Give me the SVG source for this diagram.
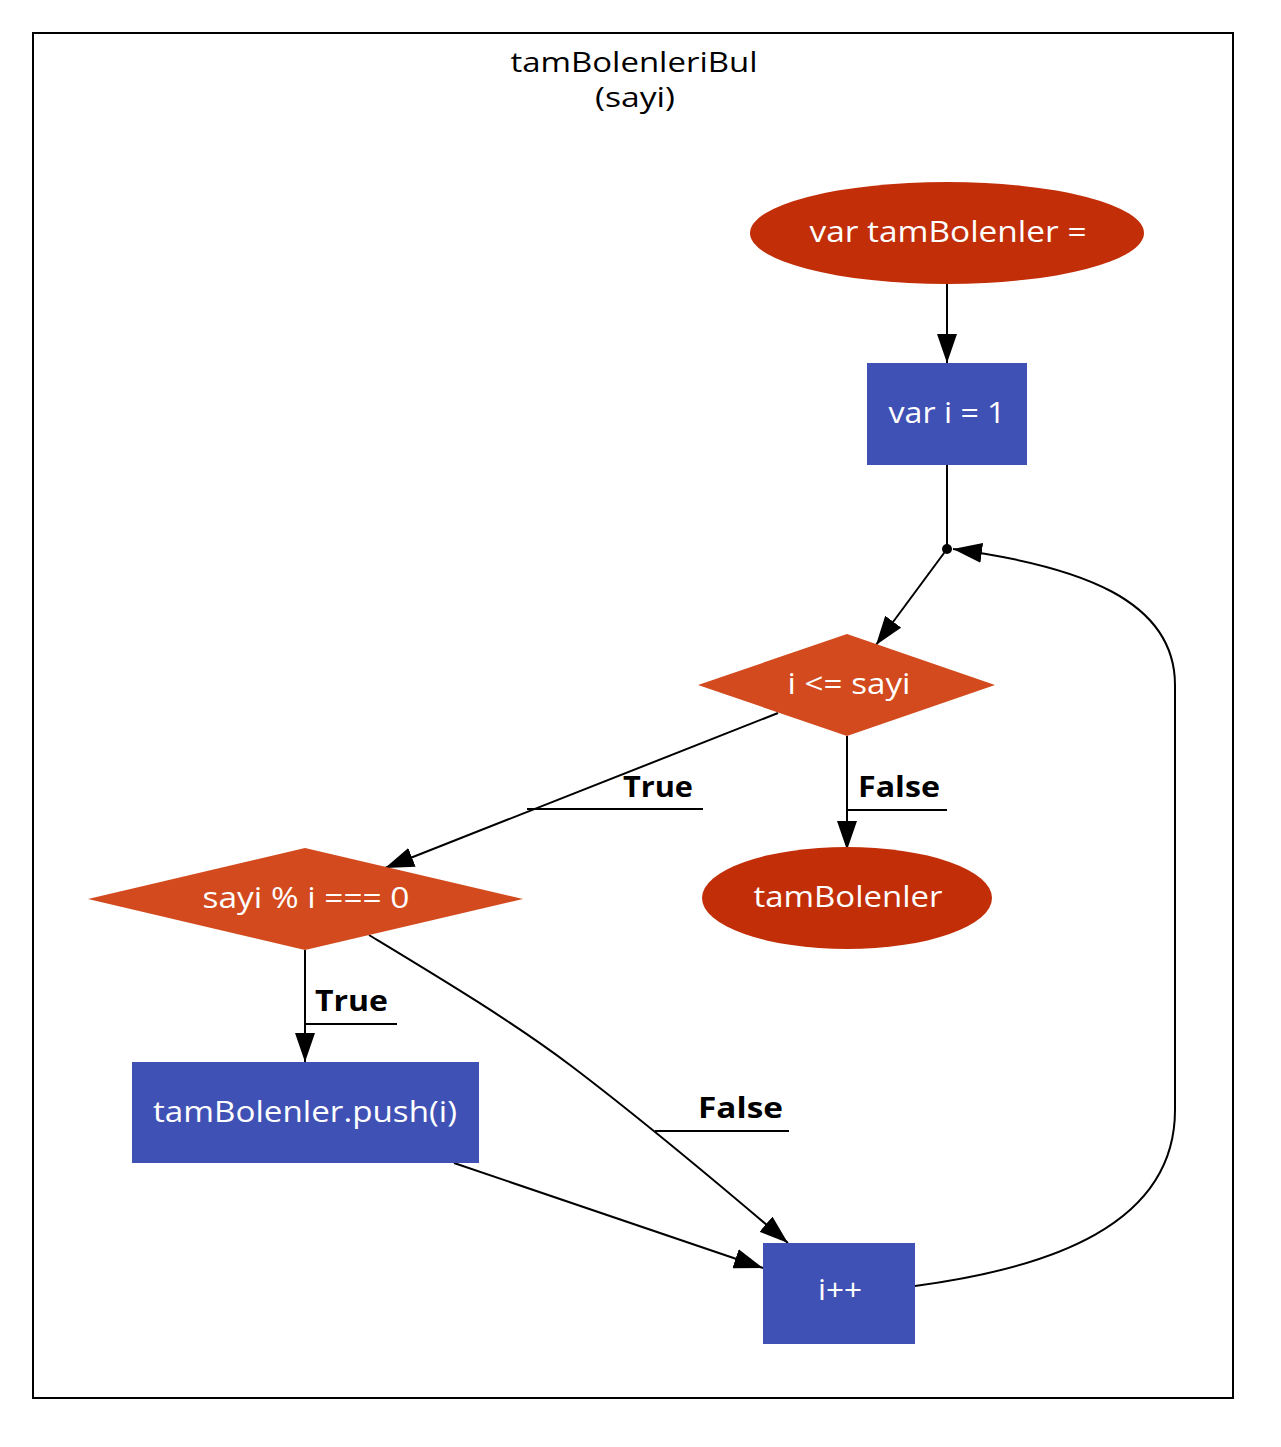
<svg xmlns="http://www.w3.org/2000/svg" width="1281" height="1447" viewBox="0 0 1281 1447">
  <defs>
    <marker id="arrow" markerUnits="userSpaceOnUse" markerWidth="30" markerHeight="20" refX="29" refY="10" orient="auto">
      <path d="M0,0 L29,10 L0,20 z" fill="#000"/>
    </marker>
    <style>
      .lbl { font-family: "Open Sans", "Noto Sans", sans-serif; font-size: 29px; fill: #fff; text-anchor: middle; }
      .title { font-family: "Open Sans", "Noto Sans", sans-serif; font-size: 28px; fill: #000; text-anchor: middle; }
      .elbl { font-family: "Open Sans", "Noto Sans", sans-serif; font-size: 29px; font-weight: bold; fill: #000; }
      .edge { fill: none; stroke: #000; stroke-width: 2; }
      .uline { stroke: #000; stroke-width: 2; }
      .term { fill: #c22e08; }
      .cond { fill: #d24a1d; }
      .stmt { fill: #3f51b5; }
    </style>
  </defs>
  <rect width="1281" height="1447" fill="#fff"/>

  <!-- function cluster -->
  <g id="cluster">
    <rect x="33" y="33" width="1200" height="1365" fill="none" stroke="#000" stroke-width="2"/>
    <text class="title" x="634" y="72" textLength="247" lengthAdjust="spacingAndGlyphs">tamBolenleriBul</text>
    <text class="title" x="635" y="107" textLength="80" lengthAdjust="spacingAndGlyphs">(sayi)</text>
  </g>

  <!-- connectors -->
  <g id="edges">
    <path class="edge" d="M947,284 L947,363" marker-end="url(#arrow)"/>
    <path class="edge" d="M947,465 L947,549"/>
    <path class="edge" d="M947,549 L876,645" marker-end="url(#arrow)"/>
    <!-- i <= sayi : True -->
    <path class="edge" d="M778,713 L385,868" marker-end="url(#arrow)"/>
    <text class="elbl" x="623" y="797" textLength="70" lengthAdjust="spacingAndGlyphs">True</text>
    <line class="uline" x1="527" y1="809" x2="703" y2="809"/>
    <!-- i <= sayi : False -->
    <path class="edge" d="M847,736 L847,850" marker-end="url(#arrow)"/>
    <text class="elbl" x="858" y="797" textLength="82" lengthAdjust="spacingAndGlyphs">False</text>
    <line class="uline" x1="847" y1="810" x2="947" y2="810"/>
    <!-- sayi % i === 0 : True -->
    <path class="edge" d="M305,950 L305,1062" marker-end="url(#arrow)"/>
    <text class="elbl" x="315" y="1011" textLength="73" lengthAdjust="spacingAndGlyphs">True</text>
    <line class="uline" x1="305" y1="1024" x2="397" y2="1024"/>
    <!-- sayi % i === 0 : False -->
    <path class="edge" d="M369,935 C440,978 510,1020 570,1065 C640,1118 720,1185 788,1243" marker-end="url(#arrow)"/>
    <text class="elbl" x="698" y="1118" textLength="85" lengthAdjust="spacingAndGlyphs">False</text>
    <line class="uline" x1="655" y1="1131" x2="789" y2="1131"/>
    <!-- push -> i++ -->
    <path class="edge" d="M454,1163 L763,1268" marker-end="url(#arrow)"/>
    <!-- loop back -->
    <path class="edge" d="M915,1286 C1050,1268 1175,1225 1175,1110 L1175,685 C1175,600 1080,566 953,549" marker-end="url(#arrow)"/>
    <circle cx="947" cy="549" r="5" fill="#000"/>
  </g>

  <g id="n_init">
    <ellipse class="term" cx="947" cy="233" rx="197" ry="51"/>
    <text class="lbl" x="948" y="242" textLength="277" lengthAdjust="spacingAndGlyphs">var tamBolenler =</text>
  </g>
  <g id="n_i">
    <rect class="stmt" x="867" y="363" width="160" height="102"/>
    <text class="lbl" x="947" y="423" textLength="117" lengthAdjust="spacingAndGlyphs">var i = 1</text>
  </g>
  <g id="n_loop">
    <polygon class="cond" points="847,634 995,685 847,736 698,685"/>
    <text class="lbl" x="849" y="694" textLength="123" lengthAdjust="spacingAndGlyphs">i &lt;= sayi</text>
  </g>
  <g id="n_return">
    <ellipse class="term" cx="847" cy="898" rx="145" ry="51"/>
    <text class="lbl" x="848" y="907" textLength="189" lengthAdjust="spacingAndGlyphs">tamBolenler</text>
  </g>
  <g id="n_if">
    <polygon class="cond" points="305,848 523,899 305,950 88,899"/>
    <text class="lbl" x="306" y="908" textLength="207" lengthAdjust="spacingAndGlyphs">sayi % i === 0</text>
  </g>
  <g id="n_push">
    <rect class="stmt" x="132" y="1062" width="347" height="101"/>
    <text class="lbl" x="305" y="1122" textLength="304" lengthAdjust="spacingAndGlyphs">tamBolenler.push(i)</text>
  </g>
  <g id="n_inc">
    <rect class="stmt" x="763" y="1243" width="152" height="101"/>
    <text class="lbl" x="840" y="1300" textLength="44" lengthAdjust="spacingAndGlyphs">i++</text>
  </g>
</svg>
